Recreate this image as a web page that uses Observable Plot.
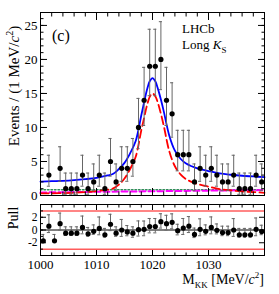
<!DOCTYPE html>
<html><head><meta charset="utf-8">
<script src="https://cdn.jsdelivr.net/npm/d3@7"></script>
<script src="https://cdn.jsdelivr.net/npm/@observablehq/plot@0.6"></script>
<style>
body{margin:0;background:#fff;}
#wrap{position:relative;width:279px;height:294px;overflow:hidden;font-family:"Liberation Serif","Times New Roman",serif;color:#000;}
#wrap svg{position:absolute;left:0;}
.t{position:absolute;white-space:nowrap;line-height:1;}
sub,sup{line-height:0;}
</style></head><body><div id="wrap"></div>
<script>
// ---- data ----
const binCenters = [1000.5,1001.5,1002.5,1003.5,1004.5,1005.5,1006.5,1007.5,1008.5,1009.5,
  1010.5,1011.5,1012.5,1013.5,1014.5,1015.5,1016.5,1017.5,1018.5,1019.5,
  1020.5,1021.5,1022.5,1023.5,1024.5,1025.5,1026.5,1027.5,1028.5,1029.5,
  1030.5,1031.5,1032.5,1033.5,1034.5,1035.5,1036.5,1037.5,1038.5,1039.5];
const counts = [0,3,0,4,1,1,1,3,1,2, 3,1,5,2,4,4,5,10,14,19, 19,20,14,12,6,6,6,2,4,3, 4,3,2,2,3,1,1,1,3,2];
const pulls = [-1.7,0.6,-1.7,1.0,-0.5,-0.5,-0.5,0.4,-0.6,-0.2, 0.25,-0.75,0.9,-0.5,0,-0.3,-0.5,0.05,0.1,0.55,
  0.55,1.3,1.0,1.2,-0.1,0.3,0.6,-0.7,0.1,-0.2, 0.4,-0.05,-0.4,-0.4,0,-0.75,-0.75,-0.75,0.1,-0.25];
// Poisson (68%) interval table for the observed counts
const poissonN  = [0,1,2,3,4,5,6,10,12,14,19,20];
const poissonLo = [0,0.173,0.708,1.367,2.086,2.840,3.620,6.89,8.57,10.29,14.67,15.56];
const poissonHi = [1.841,3.300,4.638,5.918,7.163,8.382,9.584,14.27,16.57,18.84,24.44,25.55];
// fit curves
const curveMass = [1000,1002,1004,1006,1008,1010,1012,1013,1014,1015,1016,1017,1018,1018.5,1019,1019.5,1020,1020.5,
  1021,1021.5,1022,1023,1024,1025,1026,1027,1028,1030,1032,1034,1036,1038,1040];
const totalFit = [2.05,2.1,2.15,2.25,2.4,2.6,2.95,3.2,3.9,4.8,6.2,8.0,11.8,13.7,15.5,16.8,17.25,16.8,
  15.6,14.1,12.4,8.8,6.6,5.4,4.7,4.3,4.0,3.6,3.25,3.05,2.9,2.8,2.7];
const signalFit = [0.3,0.32,0.35,0.4,0.5,0.65,0.85,1.05,1.6,2.5,3.9,5.7,9.6,11.4,13.2,14.5,15.0,14.6,
  13.5,12.0,10.3,6.5,4.3,3.1,2.4,2.0,1.7,1.3,0.95,0.75,0.6,0.5,0.4];
const bkgMass = [1000,1040];
const combBkg = [0.45,0.8];
const otherBkg = [0.85,0.85];
const pullLimits = [-3,3];
// tick values
const xMajor = [1000,1010,1020,1030,1040];
const xMinor = [1000,1002,1004,1006,1008,1010,1012,1014,1016,1018,1020,1022,1024,1026,1028,1030,1032,1034,1036,1038,1040];
const xLabels = [1000,1010,1020,1030];
const yMajor = [0,5,10,15,20,25];
const yMinor = [0,1,2,3,4,5,6,7,8,9,10,11,12,13,14,15,16,17,18,19,20,21,22,23,24,25,26];
const pMajor = [-2,0,2];
const pMinor = [-4,-3,-2,-1,0,1,2,3,4];

// ---- tables ----
const iv = n => poissonN.indexOf(n);
const pts = binCenters.map((m,i)=>({m, n:counts[i], lo:poissonLo[iv(counts[i])], hi:poissonHi[iv(counts[i])]})).filter(d=>d.n>0);
const curves = curveMass.map((m,i)=>({m, tot:totalFit[i], sig:signalFit[i]}));
const bkg = bkgMass.map((m,i)=>({m, comb:combBkg[i], other:otherBkg[i]}));
const pullPts = binCenters.map((m,i)=>{
  const n = counts[i], p = pulls[i], k = iv(n);
  const eL = n - poissonLo[k], eH = poissonHi[k] - n;
  let lo, hi;
  if (p >= 0 && eL > 0) { lo = p - 1; hi = p + eH/eL; }
  else if (eL === 0) { lo = p; hi = p + 1; }
  else { hi = p + 1; lo = p - eL/eH; }
  return {m, p, lo, hi};
});

const bar = "#666", capW = 0.28;
function yTicks(vals, size, anchor, labels, fs = 13) {
  return Plot.axisY(vals, {anchor, tickSize:-size, tickPadding:size+3, label:null,
    fill: labels ? "black" : "none", tickFormat: d=>String(d), fontSize:fs});
}
function xTicks(vals, size, anchor, labels) {
  return Plot.axisX(vals, {anchor, tickSize:-size, tickPadding:size+4, label:null,
    fill: labels ? "black" : "none", tickFormat: d=>String(d), fontSize:13});
}
const style = {fontFamily:"Liberation Serif, serif", fontSize:"13px", color:"black", background:"transparent", overflow:"visible"};

const main = Plot.plot({
  width:279, height:200, marginTop:12, marginBottom:5, marginLeft:40, marginRight:15,
  x:{domain:[1000,1040], axis:null}, y:{domain:[0,26.9], axis:null}, style,
  marks:[
    Plot.line(bkg, {x:"m", y:"other", stroke:"#2e8b57", strokeWidth:1.5, strokeDasharray:"1.5,2"}),
    Plot.line(bkg, {x:"m", y:"comb", stroke:"#ff00ff", strokeWidth:2, strokeDasharray:"6,3"}),
    Plot.line(curves, {x:"m", y:"sig", stroke:"#ff0000", strokeWidth:1.8, strokeDasharray:"8,4", curve:"catmull-rom"}),
    Plot.line(curves, {x:"m", y:"tot", stroke:"#0000ff", strokeWidth:1.8, curve:"catmull-rom"}),
    Plot.ruleX(pts, {x:"m", y1:"lo", y2:"hi", stroke:bar}),
    Plot.ruleY(pts, {y:"hi", x1:d=>d.m-capW, x2:d=>d.m+capW, stroke:bar}),
    Plot.ruleY(pts, {y:"lo", x1:d=>d.m-capW, x2:d=>d.m+capW, stroke:bar}),
    Plot.dot(pts, {x:"m", y:"n", r:2.6, fill:"black"}),
    yTicks(yMajor, 7, "left", true),
    yTicks(yMinor, 3.5, "left", false),
    yTicks(yMajor, 7, "right", false),
    yTicks(yMinor, 3.5, "right", false),
    xTicks(xMajor, 7, "bottom", false),
    xTicks(xMinor, 3.5, "bottom", false),
    xTicks(xMajor, 7, "top", false),
    xTicks(xMinor, 3.5, "top", false),
    Plot.frame({stroke:"black"})
  ]
});
main.style.top = "0px";

const pull = Plot.plot({
  width:279, height:95, marginTop:5, marginBottom:39, marginLeft:40, marginRight:15,
  x:{domain:[1000,1040], axis:null}, y:{domain:[-4,4], axis:null}, style,
  marks:[
    Plot.ruleY(pullLimits, {stroke:"#ff5c5c", strokeWidth:1.5}),
    Plot.ruleY([0], {stroke:"black"}),
    Plot.ruleX(pullPts, {x:"m", y1:"lo", y2:"hi", stroke:bar}),
    Plot.ruleY(pullPts, {y:"hi", x1:d=>d.m-capW, x2:d=>d.m+capW, stroke:bar}),
    Plot.ruleY(pullPts, {y:"lo", x1:d=>d.m-capW, x2:d=>d.m+capW, stroke:bar}),
    Plot.dot(pullPts, {x:"m", y:"p", r:2.6, fill:"black"}),
    yTicks(pMajor, 6, "left", true, 11.5),
    yTicks(pMinor, 3, "left", false),
    yTicks(pMajor, 6, "right", false),
    xTicks(xMajor, 5, "bottom", false),
    xTicks(xMinor, 2.5, "bottom", false),
    xTicks(xLabels, 0.01, "bottom", true),
    xTicks(xMajor, 5, "top", false),
    xTicks(xMinor, 2.5, "top", false),
    Plot.frame({stroke:"black"})
  ]
});
pull.style.top = "199px";

const wrap = document.getElementById("wrap");
wrap.append(main, pull);
function addText(html, css) {
  const d = document.createElement("div");
  d.className = "t"; d.innerHTML = html; Object.assign(d.style, css); wrap.append(d);
}
addText("Events / (1 MeV/<i>c</i><sup style='font-size:10px'>2</sup>)", {left:"14px", top:"86px", fontSize:"15px", transform:"translate(-50%,-50%) rotate(-90deg)"});
addText("Pull", {left:"14px", top:"218px", fontSize:"14px", transform:"translate(-50%,-50%) rotate(-90deg)"});
addText("(c)", {left:"52px", top:"28px", fontSize:"16px"});
addText("LHCb", {left:"182px", top:"22px", fontSize:"13px"});
addText("Long <i>K</i><sub style='font-size:9px'>S</sub>", {left:"182px", top:"38px", fontSize:"13px"});
addText("M<sub style='font-size:9px'>KK</sub> [MeV/<i>c</i><sup style='font-size:9px'>2</sup>]", {right:"15px", top:"273px", fontSize:"14px"});
</script></body></html>
